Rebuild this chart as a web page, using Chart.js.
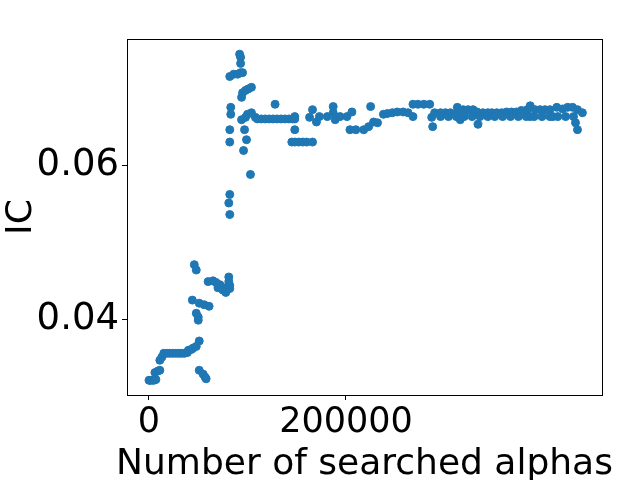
<!DOCTYPE html>
<html>
<head>
<meta charset="utf-8">
<script src="https://cdn.jsdelivr.net/npm/chart.js@4/dist/chart.umd.min.js"></script>
<style>
  html, body { margin: 0; padding: 0; background: #fff; }
  #wrap { width: 640px; height: 480px; }
</style>
</head>
<body>
<div id="wrap"><canvas id="icChart"></canvas></div>
<script>
// number of searched alphas (x) and IC (y)
const searched = [
    0, 1000, 3000, 5000, 7000, 6000, 9000, 11000,
    11000, 13000, 15000, 18000, 21000, 24000, 27000, 30000, 33000, 36000, 39000,
    40000, 43000, 45000, 48000, 51000,
    46000, 48000, 44000, 51000, 56000, 61000, 48000, 50000, 50000,
    51000, 55000, 57000, 58000,
    60000, 65000, 68000, 72000, 76000, 79000, 82000, 81000, 81000, 82000, 70000, 75000, 78000,
    82000, 81000, 82000, 82000, 82000, 83000, 83000, 82000,
    86000, 90000, 93000, 95000, 92000, 93000, 93000,
    94000, 95000, 98000, 101000, 104000,
    94000, 97000, 99000, 96000, 103000,
    98000, 100000, 104000, 108000,
    110000, 114000, 118000, 122000, 126000, 130000, 134000, 138000, 142000, 146000, 148000,
    128000, 148000, 148000,
    145000, 148000, 152000, 156000, 160000, 166000,
    163000, 166000, 170000, 173000, 181000, 187000, 187000, 189000, 194000, 201000, 206000,
    204000, 210000, 218000, 223000, 225000, 228000, 232000,
    238000, 242000, 247000, 252000, 258000, 263000, 268000,
    268000, 273000, 279000, 285000, 287000, 288000,
    290000, 296000, 301000, 306000, 313000, 313000, 316000,
    319000, 324000, 329000, 333000, 334000,
    339000, 344000, 348000, 353000, 358000, 363000, 368000, 373000, 378000, 384000,
    387000, 387000, 392000, 397000, 402000, 407000, 410000,
    414000, 420000, 425000, 430000, 435000, 440000, 433000, 435000,
    296000, 304000, 312000, 320000, 328000, 336000, 344000, 351000, 359000,
    367000, 375000, 383000, 391000, 399000, 407000, 415000, 423000, 431000
];
const icValues = [
    0.0321, 0.0321, 0.0321, 0.0321, 0.0322, 0.0331, 0.0333, 0.0334,
    0.0347, 0.0351, 0.0356, 0.0356, 0.0356, 0.0356, 0.0356, 0.0356, 0.0356, 0.0356, 0.0357,
    0.0360, 0.0361, 0.0363, 0.0365, 0.0372,
    0.0471, 0.0464, 0.0425, 0.0421, 0.0419, 0.0417, 0.0408, 0.0399, 0.0403,
    0.0334, 0.0329, 0.0325, 0.0323,
    0.0449, 0.0450, 0.0448, 0.0445, 0.0441, 0.0441, 0.0440, 0.0455, 0.0449, 0.0444, 0.0441, 0.0438, 0.0435,
    0.0536, 0.0551, 0.0562, 0.0630, 0.0646, 0.0666, 0.0675, 0.0715,
    0.0718, 0.0718, 0.0720, 0.0720, 0.0744, 0.0740, 0.0732,
    0.0688, 0.0694, 0.0697, 0.0699, 0.0701,
    0.0659, 0.0646, 0.0633, 0.0619, 0.0588,
    0.0662, 0.0666, 0.0668, 0.0662,
    0.0660, 0.0660, 0.0660, 0.0660, 0.0660, 0.0660, 0.0660, 0.0660, 0.0660, 0.0660, 0.0660,
    0.0679, 0.0663, 0.0646,
    0.0630, 0.0630, 0.0630, 0.0630, 0.0630, 0.0630,
    0.0662, 0.0672, 0.0656, 0.0663, 0.0663, 0.0676, 0.0668, 0.0659, 0.0663, 0.0663, 0.0669,
    0.0646, 0.0646, 0.0646, 0.0650, 0.0676, 0.0656, 0.0655,
    0.0666, 0.0667, 0.0668, 0.0669, 0.0669, 0.0668, 0.0663,
    0.0679, 0.0679, 0.0679, 0.0679, 0.0662, 0.0650,
    0.0668, 0.0668, 0.0668, 0.0668, 0.0675, 0.0668, 0.0659,
    0.0672, 0.0672, 0.0672, 0.0669, 0.0653,
    0.0668, 0.0668, 0.0668, 0.0668, 0.0668, 0.0669, 0.0669, 0.0669, 0.0671, 0.0672,
    0.0677, 0.0663, 0.0672, 0.0672, 0.0672, 0.0672, 0.0663,
    0.0675, 0.0673, 0.0675, 0.0675, 0.0672, 0.0668, 0.0655, 0.0646,
    0.0663, 0.0663, 0.0663, 0.0663, 0.0663, 0.0663, 0.0663, 0.0663, 0.0663,
    0.0663, 0.0663, 0.0663, 0.0663, 0.0663, 0.0663, 0.0663, 0.0663, 0.0663
];
const xTickValues = [0, 200000];
const yTickValues = [0.04, 0.06];
const xTitle = 'Number of searched alphas';
const yTitle = 'IC';

const points = searched.map((x, i) => ({ x: x, y: icValues[i] }));

const xTickFont = { family: "'DejaVu Sans', sans-serif", size: 35 };
const yTickFont = { family: "'DejaVu Sans', sans-serif", size: 37 };
const titleFont = { family: "'DejaVu Sans', sans-serif", size: 36 };

// matplotlib-style box round the plot area, plus the x title
// (Chart.js squeezes a scale title to the axis width, this one is wider)
const framePlugin = {
    id: 'frame',
    afterDraw(chart) {
        const a = chart.chartArea;
        const ctx = chart.ctx;
        ctx.save();
        ctx.strokeStyle = '#000';
        ctx.lineWidth = 1;
        ctx.strokeRect(a.left + 0.5, a.top + 0.5, a.right - a.left, a.bottom - a.top);
        ctx.fillStyle = '#000';
        ctx.font = titleFont.size + "px 'DejaVu Sans', sans-serif";
        ctx.textAlign = 'center';
        ctx.textBaseline = 'alphabetic';
        ctx.fillText(xTitle, (a.left + a.right) / 2, 474);
        ctx.restore();
    }
};

const ctx = document.getElementById('icChart').getContext('2d');
new Chart(ctx, {
    type: 'scatter',
    data: {
        datasets: [{
            data: points,
            backgroundColor: '#1f77b4',
            borderColor: '#1f77b4',
            borderWidth: 1,
            pointRadius: 4,
            pointHoverRadius: 4
        }]
    },
    options: {
        responsive: true,
        maintainAspectRatio: false,
        animation: false,
        layout: { padding: { top: 39, right: 38, left: 0, bottom: 0 } },
        plugins: {
            legend: { display: false },
            tooltip: { enabled: false }
        },
        scales: {
            x: {
                type: 'linear',
                min: -22335,
                max: 459900,
                afterBuildTicks: (scale) => { scale.ticks = xTickValues.map(v => ({ value: v })); },
                afterFit: (scale) => { scale.height = 85; },
                grid: { drawOnChartArea: false, drawTicks: true, tickLength: 5, color: '#000' },
                border: { display: true, color: '#000' },
                ticks: {
                    color: '#000',
                    font: xTickFont,
                    padding: 2,
                    maxRotation: 0,
                    callback: (v) => String(v)
                },
                title: { display: false }
            },
            y: {
                type: 'linear',
                min: 0.030195,
                max: 0.076364,
                afterBuildTicks: (scale) => { scale.ticks = yTickValues.map(v => ({ value: v })); },
                afterFit: (scale) => { scale.width = 127; },
                grid: { drawOnChartArea: false, drawTicks: true, tickLength: 5, color: '#000' },
                border: { display: true, color: '#000' },
                ticks: {
                    color: '#000',
                    font: yTickFont,
                    padding: 3,
                    callback: (v) => v.toFixed(2)
                },
                title: {
                    display: true,
                    text: yTitle,
                    color: '#000',
                    font: titleFont,
                    padding: { top: 0, bottom: 0 }
                }
            }
        }
    },
    plugins: [framePlugin]
});
</script>
</body>
</html>
